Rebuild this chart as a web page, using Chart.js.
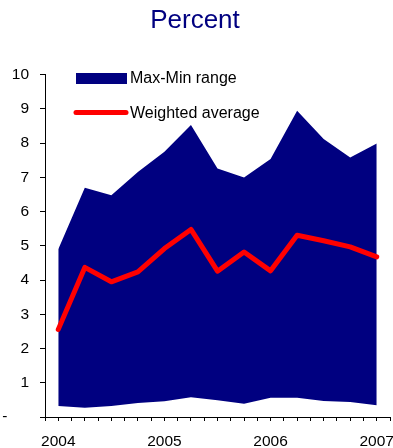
<!DOCTYPE html>
<html lang="en">

<head>
    <meta charset="UTF-8">
    <title>Percent</title>
    <script src="https://cdn.jsdelivr.net/npm/chart.js"></script>
    <style>
        body {
            margin: 0;
            background: #fff;
        }
    </style>
</head>

<body>
    <canvas id="rangeChart" width="393" height="448"></canvas>

    <script>
        // quarterly points, 2004 -> 2007
        const quarterLabels = ['2004', '', '', '', '2005', '', '', '', '2006', '', '', '', '2007'];
        const maxValues = [4.90, 6.70, 6.48, 7.16, 7.75, 8.53, 7.26, 7.00, 7.54, 8.95, 8.12, 7.58, 7.99];
        const minValues = [0.32, 0.27, 0.32, 0.41, 0.46, 0.58, 0.49, 0.39, 0.56, 0.56, 0.47, 0.44, 0.34];
        const avgValues = [2.56, 4.37, 3.95, 4.24, 4.92, 5.48, 4.26, 4.82, 4.27, 5.31, 5.15, 4.97, 4.68];
        const yTickLabels = ['-     ', '1', '2', '3', '4', '5', '6', '7', '8', '9', '10'];

        const toPoints = values => values.map((v, i) => ({ x: i, y: v }));

        Chart.defaults.font.family = "'Liberation Sans', Arial, sans-serif";
        Chart.defaults.color = '#000';

        // legend sits inside the plot, top left
        const insideLegend = {
            id: 'insideLegend',
            afterDatasetsDraw(chart) {
                const ctx = chart.ctx;
                const area = chart.data.datasets[1];
                const avg = chart.data.datasets[0];
                ctx.save();
                ctx.font = "16px 'Liberation Sans', Arial, sans-serif";
                ctx.textBaseline = 'middle';
                ctx.textAlign = 'left';

                ctx.fillStyle = area.backgroundColor;
                ctx.fillRect(76, 73, 51, 11);
                ctx.fillStyle = '#000';
                ctx.fillText(area.label, 130, 79);

                ctx.strokeStyle = avg.borderColor;
                ctx.lineWidth = 5;
                ctx.lineCap = 'round';
                ctx.beginPath();
                ctx.moveTo(76, 112.5);
                ctx.lineTo(126, 112.5);
                ctx.stroke();
                ctx.fillText(avg.label, 130, 114);
                ctx.restore();
            }
        };

        const ctx = document.getElementById('rangeChart').getContext('2d');
        const chart = new Chart(ctx, {
            type: 'line',
            data: {
                datasets: [{
                    label: 'Weighted average',
                    data: toPoints(avgValues),
                    borderColor: '#ff0000',
                    borderWidth: 5,
                    borderJoinStyle: 'round',
                    borderCapStyle: 'round',
                    pointRadius: 0,
                    tension: 0,
                    fill: false
                }, {
                    label: 'Max-Min range',
                    data: toPoints(maxValues),
                    borderColor: '#000080',
                    backgroundColor: '#000080',
                    borderWidth: 0,
                    pointRadius: 0,
                    tension: 0,
                    fill: '+1'
                }, {
                    label: 'Min',
                    data: toPoints(minValues),
                    borderColor: '#000080',
                    borderWidth: 0,
                    pointRadius: 0,
                    tension: 0,
                    fill: false
                }]
            },
            options: {
                responsive: false,
                animation: false,
                layout: {
                    padding: { left: 0, right: 3, top: 0, bottom: 0 }
                },
                scales: {
                    x: {
                        type: 'linear',
                        min: -0.5,
                        max: 12.5,
                        afterFit: scale => {
                            scale.height = 31;
                            scale.paddingLeft = 0;
                            scale.paddingRight = 0;
                        },
                        grid: {
                            drawOnChartArea: false,
                            tickLength: 4,
                            color: '#000'
                        },
                        border: { color: '#000', width: 1 },
                        ticks: {
                            stepSize: 0.5,
                            autoSkip: false,
                            maxRotation: 0,
                            padding: 11,
                            font: { size: 15.5 },
                            callback: value => Number.isInteger(value) ? quarterLabels[value] : ''
                        }
                    },
                    y: {
                        min: 0,
                        max: 10,
                        afterFit: scale => { scale.width = 45; },
                        grid: {
                            drawOnChartArea: false,
                            tickLength: 5,
                            color: '#000'
                        },
                        border: { color: '#000', width: 1 },
                        ticks: {
                            stepSize: 1,
                            padding: 11,
                            font: { size: 15.5 },
                            callback: value => yTickLabels[value]
                        }
                    }
                },
                plugins: {
                    legend: { display: false },
                    tooltip: { enabled: false },
                    title: {
                        display: true,
                        text: 'Percent',
                        color: '#000080',
                        font: { size: 26, weight: 'normal' },
                        padding: { top: 5, bottom: 38.5 }
                    }
                }
            },
            plugins: [insideLegend]
        });
    </script>
</body>

</html>
